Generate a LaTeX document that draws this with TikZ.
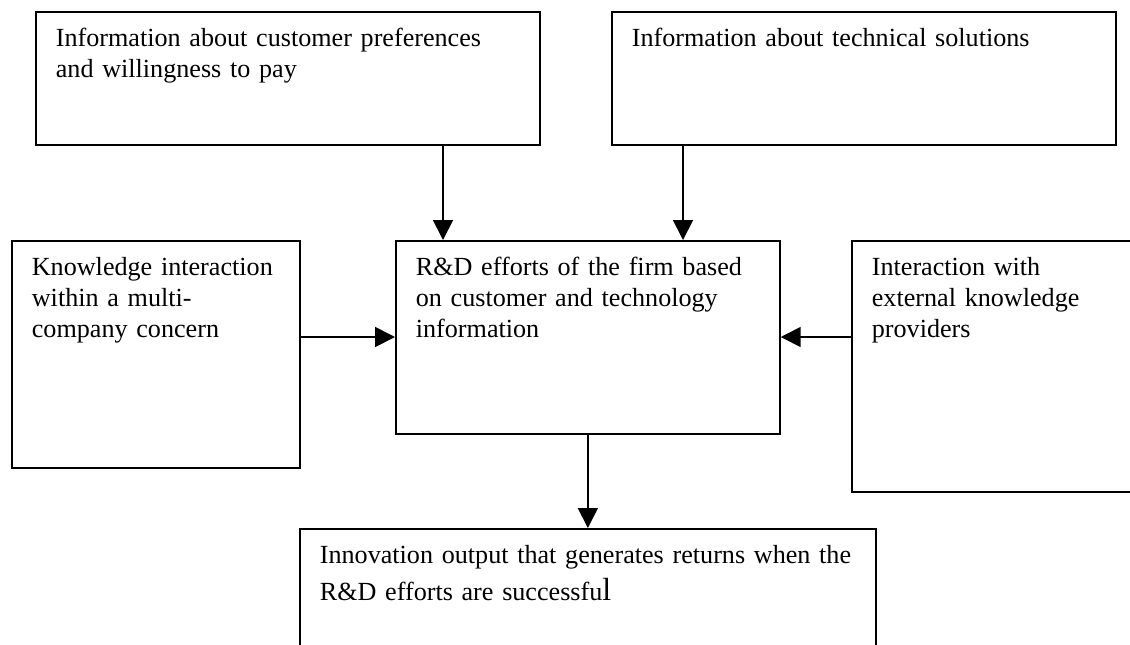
\documentclass[tikz,border=0pt]{standalone}
\usepackage{fontspec}
\setmainfont{Liberation Serif}
\usepackage{tikz}
\usetikzlibrary{arrows.meta}

\begin{document}
\begin{tikzpicture}[x=0.75pt,y=-0.75pt]
\tikzstyle{infobox}=[draw=black,line width=1.3pt,anchor=north west,align=left,
                     inner xsep=15pt,inner ysep=0pt,text height=26.25pt,
                     font=\fontsize{19.6pt}{23.25pt}\selectfont]
\tikzstyle{flow}=[-{Triangle[length=15pt,width=15pt]},line width=1.3pt,black]

\useasboundingbox (0,0) rectangle (1130,644);
\clip (0,0) rectangle (1130,644);

% --- customer information ---
\node[infobox,text width=348pt,text depth=73.5pt] (cust) at (35,11)
  {Information about customer preferences\\ and willingness to pay};

% --- technical information ---
\node[infobox,text width=348pt,text depth=73.5pt] (tech) at (611,11)
  {Information about technical solutions};

% --- multi-company concern ---
\node[infobox,text width=186pt,text depth=144pt] (multi) at (11,240)
  {Knowledge interaction\\ within a multi-\\ company concern};

% --- R&D efforts ---
\node[infobox,text width=258pt,text depth=118.5pt] (rnd) at (395,240)
  {R\&D efforts of the firm based\\ on customer and technology\\ information};

% --- external providers ---
\node[infobox,text width=194.25pt,text depth=162pt] (ext) at (851,240)
  {Interaction with\\ external knowledge\\ providers};

% --- innovation output ---
\node[infobox,text width=402pt,text depth=72.75pt] (out) at (299,528)
  {Innovation output that generates returns when the\\[4pt]
   R\&D efforts are successfu{\fontsize{24pt}{28pt}\selectfont l}};

% --- side entry points ---
\coordinate (rndwest) at ([yshift=-72.75pt]rnd.north west);
\coordinate (rndeast) at ([yshift=-72.75pt]rnd.north east);

% --- Arrows ---
\draw[flow] ([xshift=36pt]rnd.north west |- cust.south) -- ([xshift=36pt]rnd.north west);
\draw[flow] ([xshift=54pt]tech.south west) -- ([xshift=54pt]tech.south west |- rnd.north);
\draw[flow] (multi.east |- rndwest) -- (rndwest);
\draw[flow] (ext.west |- rndeast) -- (rndeast);
\draw[flow] (rnd.south) -- (rnd.south |- out.north);

\end{tikzpicture}
\end{document}
